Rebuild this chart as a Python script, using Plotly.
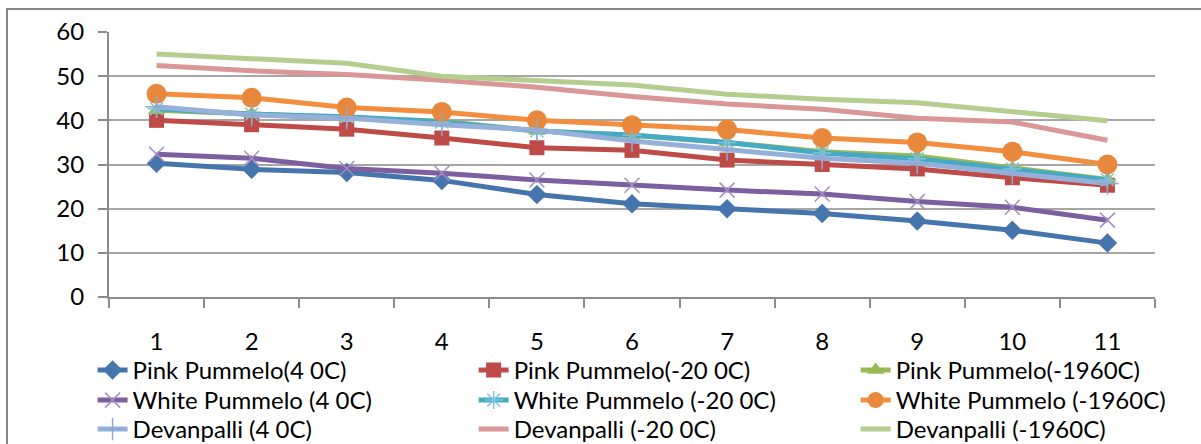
import plotly.graph_objects as go

categories = ["1", "2", "3", "4", "5", "6", "7", "8", "9", "10", "11"]

pink_4 = [30.3, 28.9, 28.2, 26.4, 23.2, 21.1, 20.0, 18.9, 17.2, 15.1, 12.2]
pink_m20 = [40.0, 39.0, 38.0, 36.0, 33.8, 33.2, 31.0, 30.0, 29.0, 27.0, 25.3]
pink_m196 = [42.3, 41.5, 40.6, 39.8, 37.6, 36.6, 35.0, 32.9, 31.9, 29.2, 26.6]
white_4 = [32.3, 31.4, 29.1, 28.0, 26.5, 25.3, 24.2, 23.3, 21.6, 20.3, 17.4]
white_m20 = [42.6, 41.4, 40.8, 39.6, 37.6, 36.7, 35.0, 32.6, 31.3, 29.0, 26.5]
white_m196 = [46.0, 45.1, 42.9, 41.9, 40.0, 38.9, 37.9, 36.0, 35.0, 32.9, 30.0]
dev_4 = [43.1, 41.2, 40.5, 39.0, 37.8, 35.3, 33.4, 31.4, 30.3, 28.0, 25.7]
dev_m20 = [52.4, 51.2, 50.4, 49.1, 47.5, 45.4, 43.7, 42.5, 40.5, 39.6, 35.5]
dev_m196 = [55.0, 54.0, 52.9, 50.0, 48.9, 48.0, 45.9, 44.8, 44.0, 42.0, 39.9]

y_ticks = [0, 10, 20, 30, 40, 50, 60]

series = [
    ("Pink Pummelo(4 0C)", pink_4, "#4674AD", dict(symbol="diamond", size=15, color="#4674AD")),
    ("Pink Pummelo(-20 0C)", pink_m20, "#BE4B48", dict(symbol="square", size=15, color="#BE4B48")),
    ("Pink Pummelo(-1960C)", pink_m196, "#98B954", dict(symbol="triangle-up", size=15, color="#98B954")),
    ("White Pummelo (4 0C)", white_4, "#7D5FA0", dict(symbol="x-thin", size=15, color="#A18FC2", line=dict(width=1.5, color="#A18FC2"))),
    ("White Pummelo (-20 0C)", white_m20, "#46AAC5", dict(symbol="asterisk", size=15, color="#7CC6DA", line=dict(width=1.5, color="#7CC6DA"))),
    ("White Pummelo (-1960C)", white_m196, "#F38E3F", dict(symbol="circle", size=20, color="#E8883C")),
    ("Devanpalli (4 0C)", dev_4, "#95B1DA", dict(symbol="cross-thin", size=16, color="#8EA9D4", line=dict(width=1.5, color="#8EA9D4"))),
    ("Devanpalli (-20 0C)", dev_m20, "#D99795", None),
    ("Devanpalli (-1960C)", dev_m196, "#B3CE8E", None),
]

font = dict(family="Lato, Carlito, Calibri, sans-serif", size=24, color="#000000")

# legend grid: 3 columns x 3 rows, one legend per entry
col_x = [-0.0157, 0.3486, 0.7138]
row_y = [-0.1925, -0.3057, -0.4151]

fig = go.Figure()
legends = {}
for i, (name, vals, color, marker) in enumerate(series):
    leg_id = "legend" if i == 0 else f"legend{i + 1}"
    kw = dict(x=categories, y=vals, name=name, legend=leg_id,
              line=dict(color=color, width=5))
    if marker is None:
        kw["mode"] = "lines"
    else:
        kw["mode"] = "lines+markers"
        m = dict(marker)
        m.setdefault("line", dict(width=0))
        kw["marker"] = m
    fig.add_trace(go.Scatter(**kw))
    legends[leg_id] = dict(orientation="v", yanchor="top", xanchor="left",
                           x=col_x[i % 3], y=row_y[i // 3], font=font,
                           bgcolor="rgba(0,0,0,0)", itemwidth=30)

fig.update_layout(
    width=1201, height=444,
    margin=dict(l=109, r=46, t=32, b=147, autoexpand=False),
    paper_bgcolor="white", plot_bgcolor="white",
    font=font,
    showlegend=True,
    xaxis=dict(type="category", range=[-0.5, 10.5], tickson="boundaries",
               ticks="outside", ticklen=9,
               tickcolor="#8C8C8C", tickwidth=2, showline=True, linecolor="#8C8C8C",
               linewidth=2, showgrid=False, tickfont=font, ticklabelstandoff=22,
               zeroline=False),
    yaxis=dict(range=[0, 60], tickvals=y_ticks, ticks="outside", ticklen=9,
               tickcolor="#8C8C8C", tickwidth=2, showline=True, linecolor="#8C8C8C",
               linewidth=2, showgrid=True, gridcolor="#A6A6A6", gridwidth=1.5,
               zeroline=False, tickfont=font, ticklabelstandoff=9),
    shapes=[dict(type="rect", xref="paper", yref="paper",
                 x0=-0.0975, x1=1.06, y0=-0.6, y1=1.0868,
                 line=dict(color="#868686", width=2), fillcolor="rgba(0,0,0,0)",
                 layer="below")],
)
fig.update_layout(**legends)

fig.write_html("out.html")
